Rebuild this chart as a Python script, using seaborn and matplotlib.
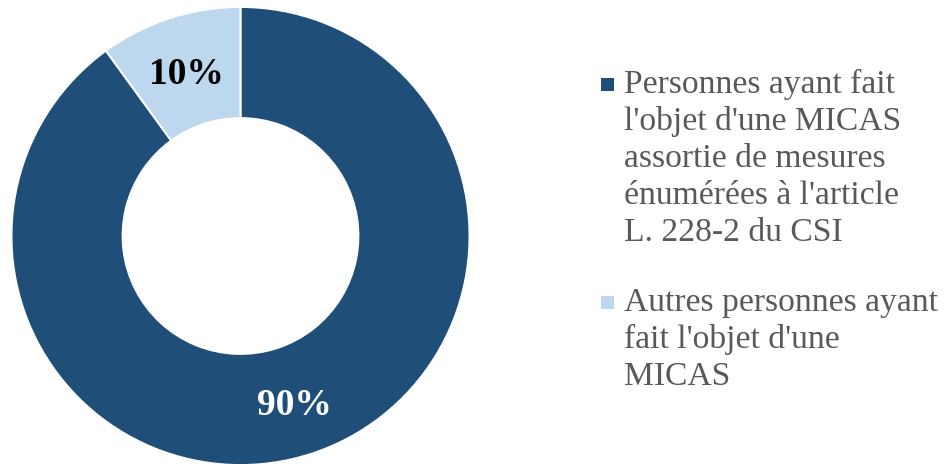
import matplotlib
matplotlib.use("Agg")
import matplotlib.pyplot as plt
from matplotlib.patches import Rectangle
import numpy as np
import seaborn as sns

# Share of persons under a MICAS
categories = [
    "Personnes ayant fait\nl'objet d'une MICAS\nassortie de mesures\nénumérées à l'article\nL. 228-2 du CSI",
    "Autres personnes ayant\nfait l'objet d'une\nMICAS",
]
values = [90, 10]
pct_labels = ["90%", "10%"]
colors = ["#1F4E79", "#BDD7EE"]
pct_colors = ["white", "black"]

sns.set_theme(style="white")
plt.rcParams["font.family"] = ["Liberation Serif", "DejaVu Serif"]

W, H = 947, 467
fig = plt.figure(figsize=(W / 100, H / 100), dpi=100)
fig.patch.set_facecolor("white")

# Donut: centre (240.5, 236) px, outer radius 229 px
cx, cy, R = 240.5, 236.0, 229.0
ax = fig.add_axes([(cx - R) / W, (H - cy - R) / H, 2 * R / W, 2 * R / H])
wedges, _ = ax.pie(
    values,
    colors=colors,
    startangle=90,
    counterclock=False,
    radius=1.0,
    wedgeprops=dict(width=0.485, edgecolor="white", linewidth=1.4),
)
ax.set_xlim(-1, 1)
ax.set_ylim(-1, 1)
ax.set_aspect("equal")
ax.axis("off")

# Percentage labels placed at the middle angle of each wedge
for w, lab, col in zip(wedges, pct_labels, pct_colors):
    mid = np.deg2rad((w.theta1 + w.theta2) / 2)
    r = 0.76
    ax.annotate(lab, xy=(r * np.cos(mid), r * np.sin(mid)),
                xytext=(0, -3), textcoords="offset points",
                ha="center", va="center",
                fontsize=27, fontweight="bold", color=col)

# Legend drawn line by line on the right
text_x = 624 / W
sq_x0, sq_size = 601, 13
line_gap = 37.0
first_baselines = [93.0, 311.0]
for cat, col, base in zip(categories, colors, first_baselines):
    lines = cat.split("\n")
    for i, ln in enumerate(lines):
        y = base + i * line_gap
        fig.text(text_x, 1 - y / H, ln, ha="left", va="baseline",
                 fontsize=24.2, color="#595959")
    fig.patches.append(Rectangle((sq_x0 / W, 1 - (base - 2) / H), sq_size / W, sq_size / H,
                                 transform=fig.transFigure, facecolor=col,
                                 edgecolor="none", figure=fig))

fig.savefig("out.png", dpi=100, facecolor="white")
